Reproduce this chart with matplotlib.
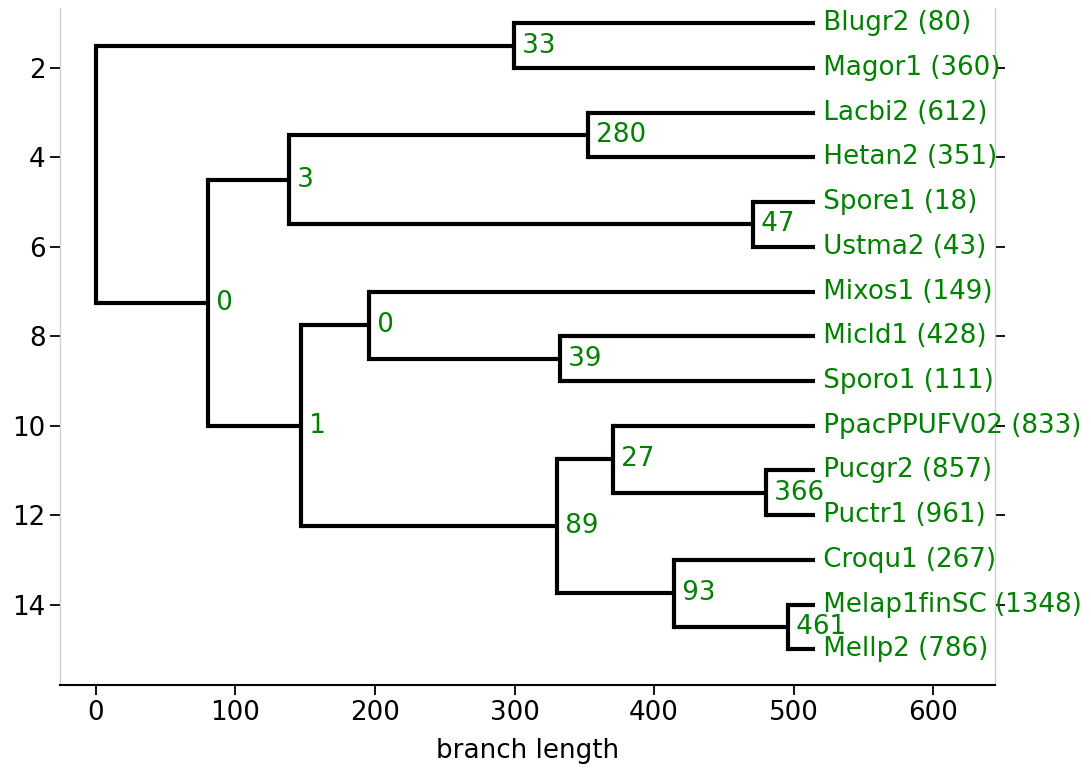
import matplotlib
matplotlib.use("Agg")
import matplotlib.pyplot as plt

# leaves, top to bottom, with their counts
leaf_names = ["Blugr2", "Magor1", "Lacbi2", "Hetan2", "Spore1", "Ustma2",
              "Mixos1", "Micld1", "Sporo1", "PpacPPUFV02", "Pucgr2", "Puctr1",
              "Croqu1", "Melap1finSC", "Mellp2"]
leaf_counts = [80, 360, 612, 351, 18, 43, 149, 428, 111, 833, 857, 961,
               267, 1348, 786]
leaf_depth = 515.5

# internal nodes: (support label, depth along branch length, children)
# children are either leaf indices or other nodes
tree = (None, 0.0, [
    ("33", 299.5, [0, 1]),
    ("0", 80.2, [
        ("3", 138.4, [
            ("280", 352.5, [2, 3]),
            ("47", 471.1, [4, 5]),
        ]),
        ("1", 147.3, [
            ("0", 195.5, [
                6,
                ("39", 332.7, [7, 8]),
            ]),
            ("89", 330.3, [
                ("27", 370.4, [
                    9,
                    ("366", 480.2, [10, 11]),
                ]),
                ("93", 414.5, [
                    12,
                    ("461", 495.7, [13, 14]),
                ]),
            ]),
        ]),
    ]),
])

FS = 18.8
LW = 3

fig = plt.figure(figsize=(10.91, 7.69), dpi=100)
ax = fig.add_axes([0.055, 0.109, 0.857, 0.8806])


def draw(node, x_parent):
    """Draw a clade, return its y position."""
    if isinstance(node, int):
        y = node + 1
        ax.plot([x_parent, leaf_depth], [y, y], color="black", lw=LW,
                solid_capstyle="butt")
        ax.text(leaf_depth, y, " %s (%d)" % (leaf_names[node], leaf_counts[node]),
                va="center", ha="left", color="green", fontsize=FS)
        return y
    label, depth, children = node
    ys = [draw(c, depth) for c in children]
    y = 0.5 * (ys[0] + ys[-1])
    ax.plot([depth, depth], [ys[0], ys[-1]], color="black", lw=LW,
            solid_capstyle="projecting")
    if depth > x_parent:
        ax.plot([x_parent, depth], [y, y], color="black", lw=LW,
                solid_capstyle="butt")
    if label is not None:
        ax.text(depth, y, " " + label, va="center", ha="left",
                color="green", fontsize=FS)
    return y


draw(tree, 0.0)

ax.set_xlim(-0.05 * leaf_depth, 1.25 * leaf_depth)
ax.set_ylim(15.8, 0.66)
ax.set_xlabel("branch length", fontsize=FS, labelpad=9)
ax.set_yticks([2, 4, 6, 8, 10, 12, 14])
ax.tick_params(axis="both", labelsize=FS, length=7, width=1.3)
ax.tick_params(axis="y", right=True)
ax.spines["top"].set_visible(False)
for side in ("left", "right"):
    ax.spines[side].set_color("#cccccc")
    ax.spines[side].set_linewidth(0.9)
ax.spines["bottom"].set_linewidth(1.5)

fig.savefig("out.png", dpi=100)
